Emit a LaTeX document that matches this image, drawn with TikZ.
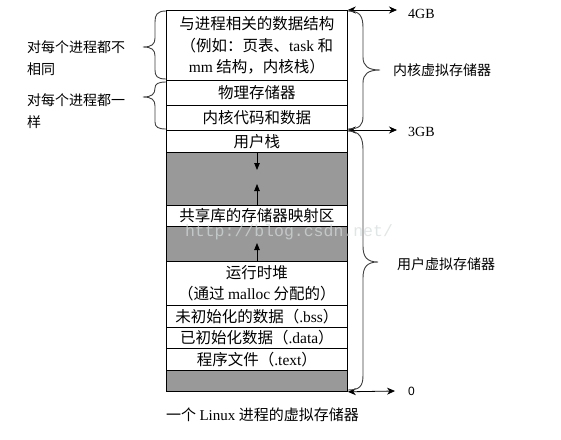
\documentclass[tikz,border=0pt]{standalone}
\usepackage{fontspec}
\setmainfont{Liberation Serif}
\setmonofont{Liberation Mono}
\newfontfamily\cjk{Noto Sans CJK SC}
\newfontfamily\arialf{Liberation Sans}
\usetikzlibrary{arrows.meta}
\definecolor{boxgray}{HTML}{999999}
\definecolor{bracecol}{HTML}{404040}
\definecolor{wmark}{HTML}{D4DCDC}
\begin{document}
\begin{tikzpicture}[x=1pt,y=-1pt,
  cell/.style={draw, line width=0.8pt, minimum width=181pt, inner sep=0pt,
    anchor=north west, align=center, font=\cjk\fontsize{15.5}{21.5}\selectfont},
  greycell/.style={cell, fill=boxgray},
  bracestyle/.style={draw=bracecol, line width=0.9pt},
  harrow/.style={line width=0.8pt, {Stealth[length=8pt,width=7pt]}-{Stealth[length=8pt,width=7pt]}},
  varrow/.style={line width=0.8pt, -{Triangle[length=7pt,width=5.5pt]}},
  lab/.style={font=\cjk\fontsize{14}{22}\selectfont, align=left, inner sep=0pt},
  gblab/.style={font=\fontsize{14}{16}\selectfont, inner sep=0pt, anchor=west}
]
\useasboundingbox (0,0) rectangle (561,439);
\fill[white] (0,0) rectangle (561,439);

% memory rows
\node[cell, minimum height=70pt] (r1) at (166,10) {与进程相关的数据结构\\（例如：页表、{\rmfamily task} 和\\{\rmfamily mm} 结构，内核栈）};
\node[cell, minimum height=25pt] (r2) at (166,80) {物理存储器};
\node[cell, minimum height=25pt] (r3) at (166,105) {内核代码和数据};
\node[cell, minimum height=22pt] (r4) at (166,130) {用户栈};
\node[greycell, minimum height=53pt] (g1) at (166,152) {};
\node[cell, minimum height=21pt] (r5) at (166,205) {共享库的存储器映射区};
\node[greycell, minimum height=35pt] (g2) at (166,226) {};
\node[cell, minimum height=44pt] (r6) at (166,261) {运行时堆\\（通过 {\rmfamily malloc} 分配的）};
\node[cell, minimum height=22pt] (r7) at (166,305) {未初始化的数据（{\rmfamily .bss}）};
\node[cell, minimum height=21pt] (r8) at (166,327) {已初始化数据（{\rmfamily .data}）};
\node[cell, minimum height=22pt] (r9) at (166,348) {程序文件（{\rmfamily .text}）};
\node[greycell, minimum height=21pt] (g3) at (166,370) {};

% growth arrows in the gaps
\coordinate (a1s) at (257,152);
\coordinate (a1e) at (257,170);
\coordinate (a2s) at (257,205);
\coordinate (a2e) at (257,184);
\coordinate (a3s) at (257,261);
\coordinate (a3e) at (257,243);
\draw[varrow] (a1s) -- (a1e);
\draw[varrow] (a2s) -- (a2e);
\draw[varrow] (a3s) -- (a3e);

% address arrows
\coordinate (k4) at (397,10);
\coordinate (k3) at (397,130);
\coordinate (k0) at (395,391);
\draw[harrow] (r1.north east) -- (k4);
\draw[harrow] (r4.north east) -- (k3);
\draw[harrow] (g3.south east) -- (k0);
\node[gblab] (t4) at (408,14) {4GB};
\node[gblab] (t3) at (408,132) {3GB};
\node[font=\arialf\fontsize{12}{14}\selectfont, inner sep=0pt, anchor=west] (t0) at (408,391) {0};

% right braces
\draw[bracestyle] (348,11) .. controls (360,11) and (363,16) .. (363,28) -- (363,57)
  .. controls (363,66) and (368,70) .. (380,70) .. controls (368,70) and (363,74) .. (363,83)
  -- (363,116) .. controls (363,125) and (360,129) .. (348,129);
\draw[bracestyle] (348,131) .. controls (360,131) and (363,138) .. (363,150) -- (363,246)
  .. controls (363,257) and (367,262) .. (378,262) .. controls (367,262) and (363,267) .. (363,278)
  -- (363,375) .. controls (363,386) and (360,390) .. (348,390);
\node[lab, anchor=west] (kv) at (393,70) {内核虚拟存储器};
\node[lab, anchor=west] (uv) at (397,264) {用户虚拟存储器};

% left braces
\draw[bracestyle] (166,11) .. controls (157,11) and (155,15) .. (155,22) -- (155,38)
  .. controls (155,44) and (152,47) .. (143,47) .. controls (152,47) and (155,50) .. (155,56)
  -- (155,70) .. controls (155,76) and (157,79) .. (166,79);
\draw[bracestyle] (166,82) .. controls (158,82) and (155,84) .. (155,88)
  .. controls (155,94) and (152,97) .. (143,97) .. controls (152,97) and (155,100) .. (155,106)
  -- (155,122) .. controls (155,127) and (158,129) .. (166,129);
\node[lab, anchor=west] (ld) at (27,58) {对每个进程都不\\相同};
\node[lab, anchor=west] (ls) at (27,111) {对每个进程都一\\样};

% caption
\node[font=\cjk\fontsize{15}{18}\selectfont, inner sep=0pt, anchor=west] (cap) at (166,415) {一个 {\rmfamily Linux} 进程的虚拟存储器};

% watermark
\node[font=\ttfamily\fontsize{16.5}{18}\selectfont, text=wmark, text opacity=0.7, inner sep=0pt] (wm) at (289,232) {http://blog.csdn.net/};
\end{tikzpicture}
\end{document}
